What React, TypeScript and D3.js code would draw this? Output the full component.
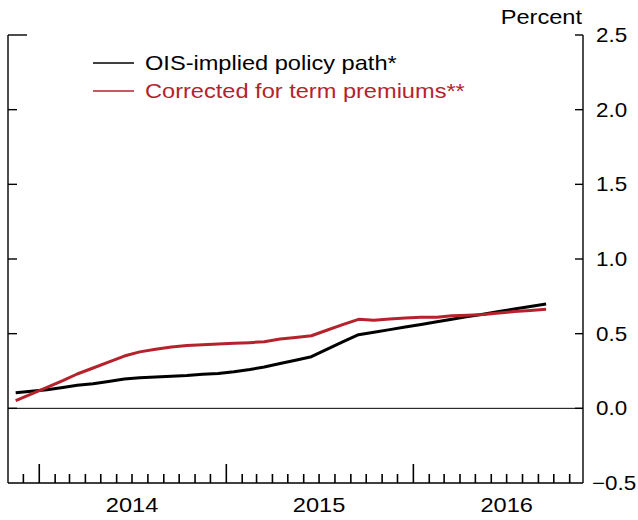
import React from 'react'
import * as d3 from 'd3'

// monthly observations, Nov 2013 .. Sep 2016 (mid-month)
const months = [
  '2013-11', '2013-12',
  '2014-01', '2014-02', '2014-03', '2014-04', '2014-05', '2014-06',
  '2014-07', '2014-08', '2014-09', '2014-10', '2014-11', '2014-12',
  '2015-01', '2015-02', '2015-03', '2015-04', '2015-05', '2015-06',
  '2015-07', '2015-08', '2015-09', '2015-10', '2015-11', '2015-12',
  '2016-01', '2016-02', '2016-03', '2016-04', '2016-05', '2016-06',
  '2016-07', '2016-08', '2016-09',
]
const oisPath = [
  0.105, 0.115,
  0.125, 0.14, 0.155, 0.165, 0.18, 0.197,
  0.205, 0.21, 0.215, 0.22, 0.228, 0.234,
  0.245, 0.26, 0.277, 0.3, 0.322, 0.346,
  0.395, 0.445, 0.493, 0.51, 0.527, 0.545,
  0.562, 0.58, 0.597, 0.614, 0.63, 0.648,
  0.665, 0.682, 0.698,
]
const correctedPath = [
  0.051, 0.095,
  0.14, 0.185, 0.23, 0.27, 0.31, 0.35,
  0.378, 0.395, 0.41, 0.42, 0.425, 0.43,
  0.435, 0.44, 0.446, 0.464, 0.475, 0.486,
  0.523, 0.56, 0.596, 0.59, 0.598, 0.605,
  0.61, 0.61, 0.62, 0.623, 0.628, 0.638,
  0.648, 0.655, 0.663,
]
const yTicks = [2.5, 2.0, 1.5, 1.0, 0.5, 0.0, -0.5]
const years = [2014, 2015, 2016]
const legendItems = [
  { label: 'OIS-implied policy path*', color: '#000000' },
  { label: 'Corrected for term premiums**', color: '#b5222c' },
]

const W = 638
const H = 520
const FONT = 'Liberation Sans, Arial, Helvetica, sans-serif'

const parseMonth = d3.timeParse('%Y-%m')
const midMonth = (s: string) => d3.timeDay.offset(parseMonth(s) as Date, 15)

function Txt({ x, y, anchor = 'start', fill = '#000', size = 20, sx = 1.18, children }: any) {
  return <text transform={`translate(${x},${y}) scale(${sx},1)`} textAnchor={anchor}
               fill={fill} fontSize={size} fontFamily={FONT}>{children}</text>
}

export default function App() {
  const x = d3.scaleTime()
    .domain([new Date(2013, 10, 1), new Date(2016, 10, 27)])
    .range([8, 583])
  const y = d3.scaleLinear().domain([-0.5, 2.5]).range([483, 35])

  const line = d3.line<number>()
    .x((_, i) => x(midMonth(months[i])))
    .y(d => y(d))

  const monthTicks = d3.timeMonth.range(new Date(2013, 11, 1), new Date(2016, 10, 2))
  const isYear = (d: Date) => d.getMonth() === 0

  const [x0, x1] = x.range()
  const [yb, yt] = y.range()

  return <svg width={W} height={H} style={{ position: 'absolute', left: 0, top: 0, background: '#fff' }}>
    {/* frame */}
    <g stroke="#000" strokeWidth={1.4} fill="none">
      <line x1={x0} x2={x0} y1={yt} y2={yb} />
      <line x1={x1} x2={x1} y1={yt} y2={yb} />
      <line x1={x0} x2={x1} y1={yb} y2={yb} />
      <line x1={x0} x2={x0 + 19} y1={yt} y2={yt} />
    </g>
    {/* y ticks */}
    <g stroke="#000" strokeWidth={1.4}>
      {yTicks.filter(t => t !== 2.5 && t !== -0.5).map(t =>
        <line key={'l' + t} x1={x0} x2={x0 + 9} y1={y(t)} y2={y(t)} />)}
      {yTicks.filter(t => t !== -0.5).map(t =>
        <line key={'r' + t} x1={x1 - 8} x2={x1} y1={y(t)} y2={y(t)} />)}
    </g>
    {yTicks.map(t =>
      <Txt key={t} x={x1 + (t < 0 ? 9 : 13)} y={y(t) + 7} sx={1.12}>{d3.format('.1f')(t)}</Txt>)}
    <Txt x={x1 - 1} y={24} anchor="end">Percent</Txt>
    {/* zero line */}
    <line x1={x0} x2={x1} y1={y(0)} y2={y(0)} stroke="#000" strokeWidth={1} />
    {/* x ticks */}
    <g stroke="#000" strokeWidth={1.6}>
      {monthTicks.map(d =>
        <line key={+d} x1={x(d)} x2={x(d)} y1={yb} y2={yb - (isYear(d) ? 19 : 9)} />)}
    </g>
    {years.map(yr =>
      <Txt key={yr} x={x(new Date(yr, 6, 1))} y={512} anchor="middle">{yr}</Txt>)}
    {/* series */}
    <path d={line(oisPath) as string} fill="none" stroke="#000" strokeWidth={3} strokeLinejoin="round" />
    <path d={line(correctedPath) as string} fill="none" stroke="#b5222c" strokeWidth={3} strokeLinejoin="round" />
    {/* legend */}
    {legendItems.map((it, i) => <g key={it.label}>
      <line x1={93} x2={134} y1={63 + i * 28} y2={63 + i * 28} stroke={it.color} strokeWidth={1.6} />
      <Txt x={145} y={70 + i * 28} fill={it.color}>{it.label}</Txt>
    </g>)}
  </svg>
}
